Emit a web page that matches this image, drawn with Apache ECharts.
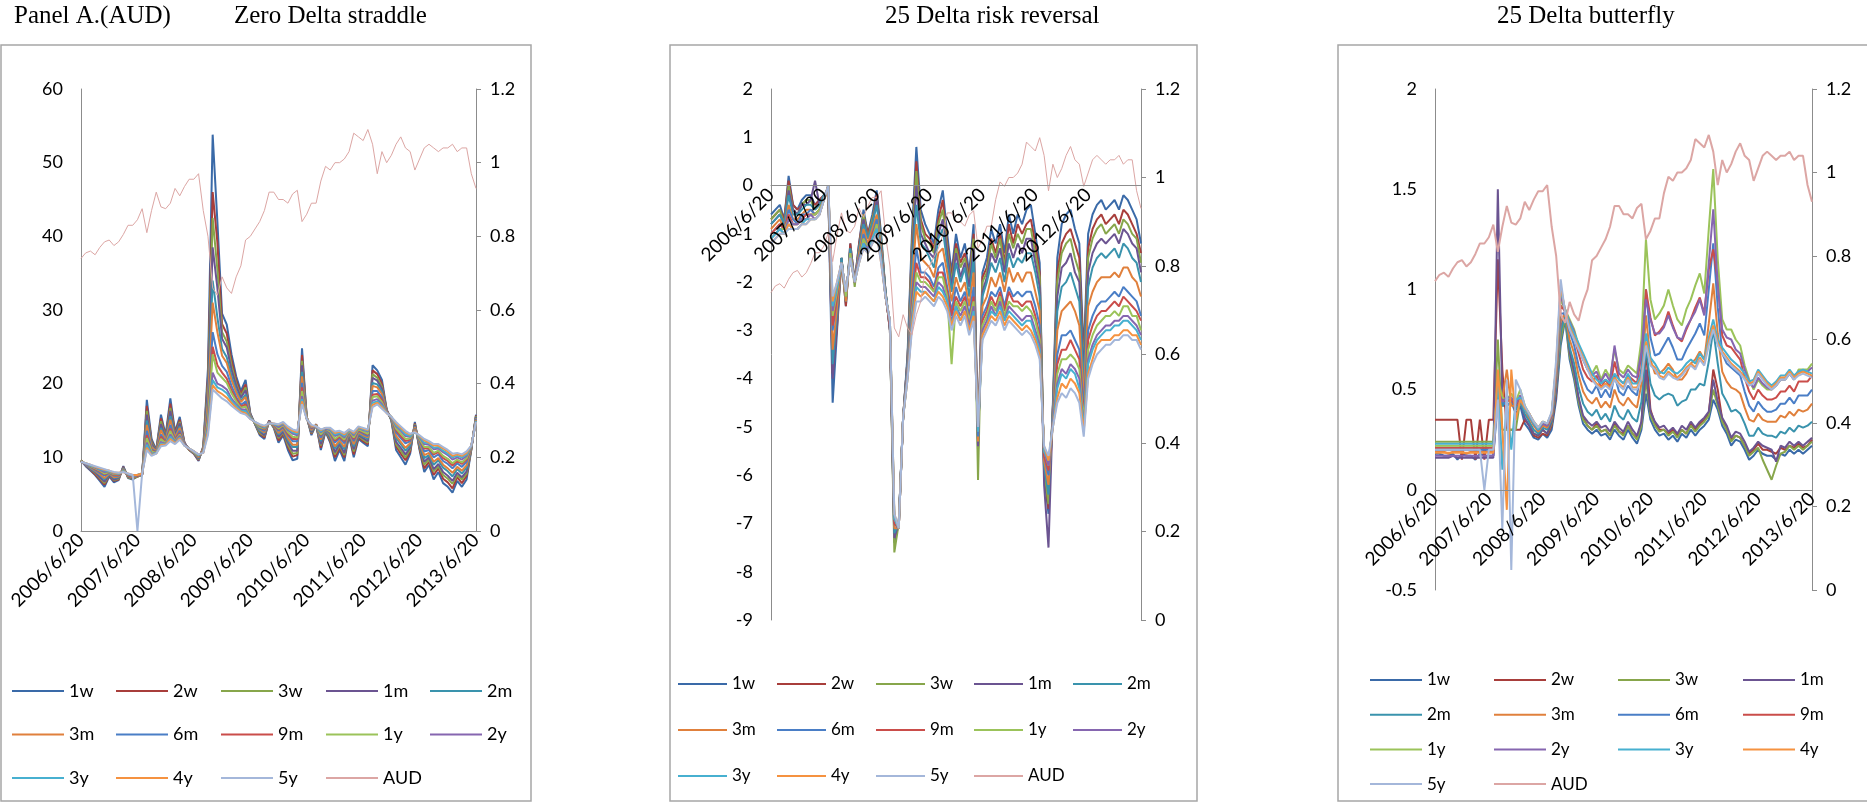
<!DOCTYPE html>
<html>
<head>
<meta charset="utf-8">
<title>AUD option-implied volatility: straddle, risk reversal, butterfly</title>
<script src="https://cdn.jsdelivr.net/npm/echarts@6.0.0/dist/echarts.min.js"></script>
<style>
  html, body { margin: 0; padding: 0; background: #fff; }
  #chart { width: 1867px; height: 803px; }
</style>
</head>
<body>
<div id="chart"></div>
<script>
// Monthly observation dates, 2006/6/20 .. 2013/6/20
const dates = [];
for (let m = 0; m <= 84; m++) {
  const y = 2006 + Math.floor((5 + m) / 12);
  const mo = ((5 + m) % 12) + 1;
  dates.push(y + '/' + mo + '/20');
}

const tenors = ['1w', '2w', '3w', '1m', '2m', '3m', '6m', '9m', '1y', '2y', '3y', '4y', '5y'];

// AUD/USD spot (right axis)
const aud = [0.74,0.755,0.76,0.75,0.77,0.785,0.79,0.775,0.785,0.805,0.83,0.83,0.845,0.875,0.81,0.87,0.92,0.88,0.875,0.89,0.93,0.91,0.935,0.955,0.955,0.97,0.87,0.80,0.66,0.64,0.69,0.66,0.645,0.69,0.72,0.79,0.80,0.82,0.84,0.87,0.92,0.92,0.90,0.90,0.89,0.915,0.925,0.84,0.86,0.89,0.89,0.95,0.99,0.98,1.0,1.0,1.01,1.03,1.08,1.07,1.06,1.09,1.05,0.97,1.03,1.00,1.02,1.05,1.07,1.04,1.03,0.98,1.01,1.04,1.05,1.04,1.03,1.04,1.04,1.05,1.03,1.04,1.04,0.97,0.93];

// Zero delta straddle (ATM implied vol, %)
const zds1w = [9.6,8.8,8.2,7.6,6.8,6.0,7.4,6.6,6.9,8.8,7.2,7.0,7.4,7.6,17.8,12.5,11.0,15.8,13.0,18.0,13.5,15.5,12.0,11.0,10.5,9.5,11.5,22.0,53.8,42.0,29.5,28.0,24.0,21.0,19.0,20.5,16.0,14.5,13.0,12.5,15.0,14.0,12.0,13.0,11.0,9.6,9.8,24.8,15.5,13.0,14.5,11.0,13.5,12.0,9.5,11.0,9.5,13.0,10.0,12.5,12.0,11.5,22.5,21.8,20.5,16.5,15.0,11.0,10.0,9.0,10.5,14.8,11.0,8.0,9.0,7.0,8.0,6.5,6.0,5.2,6.8,6.0,7.0,11.0,15.8];
const zds2w = [9.6,8.9,8.3,7.7,7.0,6.3,7.5,6.8,7.0,8.7,7.3,7.1,7.4,7.6,17.0,12.2,10.9,15.3,12.8,17.3,13.3,15.1,12.0,11.0,10.5,9.6,11.4,20.9,46.0,39.2,28.1,26.8,23.2,20.5,18.6,19.9,15.9,14.5,13.2,12.7,15.0,14.1,12.3,13.2,11.4,10.1,10.3,23.9,15.5,13.2,14.5,11.3,13.6,12.2,10.0,11.3,10.0,13.1,10.4,12.7,12.2,11.8,21.8,21.3,20.0,16.4,15.1,11.5,10.5,9.6,10.8,14.6,11.2,8.5,9.4,7.6,8.5,7.1,6.6,5.8,7.3,6.5,7.5,11.1,15.7];
const zds3w = [9.6,8.9,8.4,7.9,7.2,6.5,7.6,6.9,7.1,8.6,7.3,7.1,7.4,7.6,16.3,12.0,10.9,14.9,12.7,16.7,13.1,14.8,11.9,11.0,10.6,9.7,11.3,20.0,42.5,35.5,27.0,25.7,22.5,20.0,18.3,19.5,15.8,14.6,13.3,12.9,14.9,14.1,12.6,13.4,11.7,10.5,10.6,23.1,15.4,13.3,14.4,11.6,13.6,12.4,10.4,11.6,10.3,13.2,10.8,12.9,12.4,12.0,21.3,20.8,19.6,16.4,15.1,11.8,10.9,10.0,11.1,14.5,11.4,9.0,9.7,8.1,8.8,7.6,7.1,6.4,7.6,7.0,7.8,11.1,15.6];
const zds1m = [9.5,8.9,8.4,8.0,7.3,6.7,7.6,7.0,7.2,8.6,7.4,7.2,7.5,7.7,15.8,11.8,10.9,14.5,12.6,16.3,13.0,14.6,11.9,11.1,10.6,9.8,11.2,19.3,38.5,33.0,26.1,24.9,21.9,19.7,18.1,19.1,15.8,14.6,13.5,13.0,14.9,14.2,12.8,13.5,12.0,10.9,10.9,22.5,15.4,13.4,14.4,11.8,13.7,12.6,10.7,11.8,10.6,13.2,11.1,13.0,12.6,12.2,20.8,20.4,19.3,16.4,15.2,12.1,11.3,10.4,11.3,14.4,11.6,9.4,10.0,8.4,9.1,8.0,7.5,6.8,7.9,7.3,8.1,11.2,15.5];
const zds2m = [9.5,9.0,8.5,8.1,7.6,7.0,7.7,7.2,7.3,8.5,7.5,7.3,7.5,7.7,15.0,11.5,10.8,14.0,12.4,15.6,12.8,14.2,11.8,11.1,10.6,9.9,11.1,18.2,34.0,29.0,24.7,23.6,21.1,19.1,17.7,18.5,15.7,14.6,13.6,13.3,14.8,14.3,13.1,13.8,12.3,11.4,11.4,21.6,15.4,13.6,14.4,12.2,13.7,12.8,11.2,12.1,11.1,13.3,11.5,13.2,12.8,12.5,20.1,19.9,18.9,16.3,15.2,12.6,11.8,10.9,11.6,14.2,11.8,9.9,10.3,9.0,9.6,8.6,8.1,7.4,8.4,7.8,8.6,11.3,15.4];
const zds3m = [9.5,9.0,8.6,8.2,7.7,7.2,7.8,7.3,7.4,8.4,7.5,7.3,7.5,7.7,14.4,11.4,10.8,13.7,12.3,15.1,12.7,14.0,11.8,11.1,10.7,10.0,11.1,17.5,31.0,27.0,23.8,22.8,20.5,18.8,17.5,18.2,15.6,14.7,13.8,13.4,14.8,14.3,13.3,13.9,12.6,11.7,11.7,21.0,15.4,13.7,14.4,12.4,13.8,13.0,11.5,12.3,11.4,13.4,11.8,13.4,13.0,12.7,19.7,19.5,18.6,16.3,15.3,12.9,12.1,11.3,11.9,14.1,12.0,10.3,10.6,9.4,9.9,9.0,8.5,7.9,8.7,8.2,8.9,11.3,15.3];
const zds6m = [9.5,9.0,8.7,8.3,7.9,7.5,7.9,7.5,7.5,8.3,7.6,7.4,7.5,7.7,13.6,11.1,10.7,13.1,12.1,14.4,12.4,13.6,11.8,11.1,10.7,10.1,10.9,16.4,27.0,24.0,22.4,21.6,19.7,18.2,17.1,17.6,15.5,14.7,13.9,13.6,14.8,14.4,13.6,14.1,13.0,12.2,12.2,20.1,15.3,13.9,14.3,12.7,13.8,13.2,12.0,12.6,11.9,13.5,12.2,13.6,13.2,12.9,19.0,19.0,18.1,16.2,15.3,13.4,12.6,11.9,12.2,13.9,12.2,10.8,11.0,10.0,10.4,9.5,9.1,8.5,9.2,8.7,9.4,11.4,15.2];
const zds9m = [9.5,9.1,8.8,8.4,8.1,7.7,8.0,7.6,7.6,8.2,7.6,7.4,7.5,7.7,13.0,10.9,10.7,12.8,12.0,13.9,12.3,13.3,11.7,11.1,10.7,10.1,10.9,15.7,25.0,22.5,21.5,20.7,19.1,17.9,16.9,17.2,15.4,14.7,14.1,13.8,14.7,14.4,13.8,14.3,13.2,12.5,12.5,19.5,15.3,14.0,14.3,13.0,13.9,13.4,12.3,12.8,12.2,13.6,12.5,13.7,13.4,13.1,18.5,18.6,17.8,16.2,15.4,13.7,12.9,12.2,12.4,13.8,12.4,11.2,11.2,10.4,10.7,9.9,9.5,8.9,9.5,9.1,9.7,11.4,15.1];
const zds1y = [9.5,9.1,8.8,8.5,8.2,7.8,8.0,7.7,7.7,8.2,7.7,7.5,7.6,7.8,12.6,10.8,10.6,12.5,11.9,13.6,12.2,13.1,11.7,11.2,10.7,10.2,10.8,15.2,24.0,21.5,20.8,20.1,18.7,17.6,16.7,16.9,15.4,14.7,14.1,13.9,14.7,14.5,13.9,14.4,13.4,12.8,12.7,19.0,15.3,14.1,14.3,13.1,13.9,13.5,12.5,13.0,12.4,13.6,12.7,13.8,13.5,13.2,18.2,18.3,17.5,16.1,15.4,13.9,13.2,12.5,12.6,13.7,12.5,11.4,11.4,10.6,10.9,10.2,9.8,9.2,9.7,9.3,9.9,11.5,15.0];
const zds2y = [9.4,9.1,8.9,8.6,8.3,8.0,8.1,7.8,7.8,8.1,7.7,7.5,7.6,7.8,12.0,10.5,10.6,12.1,11.8,13.1,12.1,12.9,11.7,11.2,10.8,10.3,10.7,14.4,21.5,20.0,19.7,19.2,18.0,17.2,16.5,16.5,15.3,14.8,14.3,14.0,14.7,14.5,14.1,14.5,13.7,13.2,13.0,18.3,15.2,14.2,14.2,13.4,13.9,13.7,12.9,13.2,12.7,13.7,13.0,14.0,13.7,13.5,17.7,17.9,17.2,16.1,15.4,14.2,13.6,12.9,12.8,13.6,12.7,11.8,11.7,11.1,11.2,10.7,10.3,9.7,10.0,9.7,10.2,11.5,14.9];
const zds3y = [9.4,9.2,8.9,8.7,8.4,8.2,8.1,7.9,7.8,8.1,7.7,7.5,7.6,7.8,11.7,10.4,10.6,11.9,11.7,12.8,12.0,12.7,11.6,11.2,10.8,10.3,10.7,13.9,20.5,19.5,19.2,18.7,17.7,17.0,16.3,16.3,15.3,14.8,14.4,14.1,14.6,14.5,14.3,14.6,13.9,13.4,13.2,17.9,15.2,14.3,14.2,13.5,14.0,13.8,13.1,13.3,12.9,13.7,13.2,14.0,13.8,13.6,17.4,17.6,17.0,16.1,15.5,14.4,13.8,13.1,12.9,13.5,12.8,12.0,11.9,11.3,11.4,10.9,10.5,10.0,10.2,10.0,10.4,11.5,14.9];
const zds4y = [9.4,9.2,9.0,8.7,8.5,8.3,8.2,7.9,7.9,8.0,7.8,7.6,7.6,7.8,11.3,10.3,10.5,11.7,11.7,12.5,11.9,12.6,11.6,11.2,10.8,10.4,10.6,13.5,19.8,19.0,18.6,18.1,17.4,16.7,16.2,16.0,15.2,14.8,14.4,14.2,14.6,14.6,14.4,14.7,14.0,13.6,13.4,17.6,15.2,14.3,14.2,13.7,14.0,13.9,13.3,13.5,13.1,13.8,13.3,14.1,13.9,13.7,17.1,17.4,16.8,16.0,15.5,14.6,14.0,13.4,13.1,13.5,12.9,12.3,12.0,11.6,11.6,11.2,10.8,10.2,10.4,10.2,10.6,11.6,14.8];
const zds5y = [9.4,9.2,9.0,8.8,8.6,8.4,8.2,8.0,7.9,8.0,7.8,7.6,0,7.8,11.0,10.2,10.5,11.5,11.6,12.2,11.8,12.4,11.6,11.2,10.8,10.4,10.6,13.0,19.2,18.6,18.0,17.6,17.0,16.5,16.0,15.8,15.2,14.8,14.5,14.3,14.6,14.6,14.5,14.8,14.2,13.8,13.6,17.2,15.2,14.4,14.2,13.8,14.0,14.0,13.5,13.6,13.3,13.8,13.5,14.2,14.0,13.8,16.8,17.2,16.6,16.0,15.5,14.8,14.2,13.6,13.2,13.4,13.0,12.5,12.2,11.8,11.8,11.4,11.0,10.5,10.6,10.4,10.8,11.6,14.8];

// 25 delta risk reversal (vol points)
const rr1w = [-0.6,-0.5,-0.4,-0.7,0.2,-0.4,-0.5,-0.3,-0.2,-0.2,-0.4,-0.3,-0.2,-0.1,-4.5,-3.0,-1.5,-2.5,-1.2,-2.0,-1.2,-0.5,-1.0,-0.6,-0.1,-1.0,-2.2,-3.0,-7.4,-7.0,-4.8,-3.5,-1.0,0.8,-0.5,-0.8,-1.0,-1.2,-0.5,-0.1,-1.0,-1.8,-1.0,-1.5,-1.2,-1.8,-0.8,-5.5,-1.8,-1.5,-0.9,-1.2,-0.8,-1.4,-0.6,-1.0,-0.6,-0.8,-0.5,-0.4,-1.0,-1.6,-6.0,-6.8,-4.5,-1.5,-0.8,-0.6,-0.5,-0.9,-1.2,-3.5,-1.0,-0.6,-0.4,-0.3,-0.5,-0.4,-0.3,-0.5,-0.2,-0.3,-0.5,-0.7,-1.2];
const rr2w = [-0.7,-0.6,-0.5,-0.7,0.1,-0.4,-0.5,-0.4,-0.3,-0.3,-0.4,-0.3,-0.2,-0.1,-3.9,-2.9,-1.5,-2.5,-1.2,-2.0,-1.2,-0.6,-1.0,-0.7,-0.2,-1.1,-2.2,-3.0,-7.3,-7.0,-4.8,-3.6,-1.2,0.5,-0.7,-1.0,-1.1,-1.3,-0.7,-0.3,-1.2,-1.9,-1.2,-1.6,-1.4,-1.9,-1.0,-5.4,-1.9,-1.7,-1.1,-1.4,-1.0,-1.6,-0.8,-1.2,-0.8,-1.0,-0.8,-0.7,-1.2,-1.8,-5.9,-6.7,-4.6,-1.8,-1.2,-1.0,-0.9,-1.2,-1.5,-3.7,-1.3,-0.9,-0.7,-0.6,-0.8,-0.7,-0.6,-0.8,-0.5,-0.6,-0.8,-1.0,-1.4];
const rr3w = [-0.7,-0.6,-0.5,-0.8,0.0,-0.5,-0.6,-0.4,-0.3,-0.3,-0.5,-0.4,-0.2,-0.1,-3.6,-2.8,-1.5,-2.4,-1.3,-2.1,-1.3,-0.6,-1.1,-0.7,-0.3,-1.1,-2.2,-3.0,-7.6,-7.0,-4.8,-3.6,-1.3,0.3,-0.8,-1.1,-1.2,-1.4,-0.8,-0.5,-1.3,-2.0,-1.3,-1.7,-1.5,-2.0,-1.1,-6.1,-2.0,-1.8,-1.2,-1.5,-1.1,-1.7,-1.0,-1.3,-1.0,-1.2,-0.9,-0.9,-1.4,-1.9,-5.9,-6.6,-4.6,-2.0,-1.4,-1.2,-1.1,-1.5,-1.8,-3.8,-1.5,-1.1,-0.9,-0.8,-1.0,-0.9,-0.8,-1.0,-0.7,-0.8,-1.0,-1.1,-1.6];
const rr1m = [-0.8,-0.7,-0.6,-0.8,-0.1,-0.5,-0.6,-0.4,-0.4,-0.3,0.1,-0.4,-0.2,-0.1,-4.0,-2.8,-1.5,-2.4,-1.3,-2.0,-1.3,-0.7,-1.1,-0.8,-0.3,-1.2,-2.2,-3.0,-7.3,-7.0,-4.8,-3.6,-1.5,0.0,-1.0,-1.2,-1.4,-1.5,-1.0,-0.7,-1.4,-2.1,-1.4,-1.9,-1.6,-2.1,-1.3,-5.4,-2.2,-1.9,-1.4,-1.6,-1.3,-1.8,-1.2,-1.5,-1.2,-1.4,-1.1,-1.1,-1.6,-2.1,-6.2,-7.5,-4.6,-2.3,-1.7,-1.6,-1.4,-1.8,-2.0,-3.9,-1.8,-1.4,-1.2,-1.1,-1.2,-1.1,-1.0,-1.2,-0.9,-1.0,-1.2,-1.3,-1.8];
const rr2m = [-0.8,-0.7,-0.6,-0.8,-0.2,-0.6,-0.6,-0.5,-0.4,-0.4,-0.5,-0.4,-0.2,-0.1,-3.7,-2.6,-1.5,-2.4,-1.3,-2.0,-1.3,-0.8,-1.1,-0.8,-0.4,-1.2,-2.2,-2.9,-7.2,-7.0,-4.8,-3.7,-1.7,-0.4,-1.2,-1.3,-1.5,-1.7,-1.1,-0.9,-1.6,-2.2,-1.6,-2.0,-1.7,-2.3,-1.5,-5.3,-2.3,-2.0,-1.6,-1.8,-1.5,-2.0,-1.4,-1.7,-1.5,-1.6,-1.4,-1.4,-1.8,-2.3,-5.8,-6.4,-4.7,-2.6,-2.1,-2.0,-1.8,-2.1,-2.4,-4.1,-2.1,-1.7,-1.5,-1.4,-1.5,-1.4,-1.3,-1.5,-1.2,-1.3,-1.5,-1.6,-2.0];
const rr3m = [-0.9,-0.8,-0.7,-0.9,-0.4,-0.7,-0.7,-0.6,-0.5,-0.5,-0.6,-0.5,-0.3,-0.1,-3.4,-2.5,-1.6,-2.4,-1.4,-2.0,-1.4,-0.9,-1.2,-0.9,-0.6,-1.3,-2.3,-2.9,-7.1,-7.1,-4.8,-3.8,-2.0,-0.8,-1.5,-1.6,-1.7,-1.9,-1.4,-1.3,-1.8,-2.4,-1.9,-2.2,-2.0,-2.5,-1.8,-5.3,-2.5,-2.3,-1.9,-2.1,-1.8,-2.2,-1.7,-2.0,-1.8,-2.0,-1.8,-1.8,-2.2,-2.6,-5.7,-6.2,-4.8,-3.0,-2.6,-2.5,-2.4,-2.6,-2.9,-4.4,-2.5,-2.2,-2.0,-1.9,-1.9,-1.9,-1.8,-1.9,-1.7,-1.7,-1.9,-2.0,-2.3];
const rr6m = [-1.0,-0.9,-0.8,-0.9,-0.5,-0.7,-0.8,-0.6,-0.6,-0.5,-0.6,-0.5,-0.3,0.0,-3.0,-2.3,-1.6,-2.3,-1.4,-2.0,-1.5,-1.0,-1.3,-1.0,-0.7,-1.4,-2.3,-2.9,-7.0,-7.1,-4.8,-3.8,-2.3,-1.3,-1.8,-1.8,-1.9,-2.1,-1.7,-1.6,-2.1,-2.6,-2.1,-2.4,-2.2,-2.7,-2.1,-5.2,-2.7,-2.5,-2.2,-2.3,-2.1,-2.5,-2.1,-2.3,-2.2,-2.3,-2.2,-2.2,-2.5,-2.9,-5.6,-6.0,-4.8,-3.5,-3.1,-3.1,-3.0,-3.2,-3.4,-4.6,-3.0,-2.7,-2.5,-2.4,-2.4,-2.3,-2.2,-2.3,-2.1,-2.2,-2.3,-2.4,-2.7];
const rr9m = [-1.0,-0.9,-0.8,-0.9,-0.6,-0.8,-0.8,-0.7,-0.6,-0.6,-0.6,-0.5,-0.3,0.0,-2.9,-2.3,-1.6,-2.3,-1.4,-2.0,-1.5,-1.1,-1.3,-1.0,-0.8,-1.4,-2.3,-2.9,-7.0,-7.1,-4.8,-3.9,-2.5,-1.6,-1.9,-1.9,-2.0,-2.2,-1.8,-1.8,-2.2,-2.7,-2.3,-2.5,-2.3,-2.8,-2.3,-5.1,-2.8,-2.6,-2.3,-2.5,-2.2,-2.6,-2.2,-2.4,-2.4,-2.5,-2.4,-2.4,-2.7,-3.1,-5.6,-5.9,-4.9,-3.7,-3.4,-3.4,-3.2,-3.4,-3.6,-4.8,-3.2,-2.9,-2.7,-2.6,-2.6,-2.5,-2.4,-2.5,-2.3,-2.4,-2.5,-2.6,-2.8];
const rr1y = [-1.1,-1.0,-0.9,-0.9,-0.7,-0.8,-0.8,-0.7,-0.7,-0.6,-0.6,-0.5,-0.3,0.0,-2.7,-2.2,-1.6,-2.3,-1.4,-2.0,-1.5,-1.1,-1.3,-1.1,-0.8,-1.5,-2.3,-2.8,-6.9,-7.1,-4.8,-3.9,-2.6,-1.8,-2.0,-2.0,-2.1,-2.2,-1.9,-1.9,-2.3,-3.7,-2.4,-2.6,-2.4,-2.8,-2.4,-5.1,-2.9,-2.7,-2.4,-2.6,-2.3,-2.7,-2.4,-2.5,-2.5,-2.6,-2.5,-2.6,-2.8,-3.2,-5.5,-5.8,-4.9,-3.9,-3.6,-3.6,-3.5,-3.6,-3.8,-4.9,-3.4,-3.1,-2.9,-2.8,-2.7,-2.7,-2.6,-2.7,-2.5,-2.5,-2.7,-2.7,-3.0];
const rr2y = [-1.1,-1.0,-0.9,-1.0,-0.7,-0.8,-0.8,-0.7,-0.7,-0.6,-0.7,-0.6,-0.3,0.0,-2.6,-2.1,-1.6,-2.2,-1.5,-2.0,-1.5,-1.2,-1.3,-1.1,-0.9,-1.5,-2.3,-2.8,-6.9,-7.1,-4.8,-3.9,-2.7,-2.0,-2.1,-2.1,-2.2,-2.3,-2.0,-2.1,-2.4,-2.8,-2.5,-2.7,-2.5,-2.9,-2.5,-5.1,-3.0,-2.8,-2.5,-2.7,-2.4,-2.8,-2.5,-2.6,-2.7,-2.8,-2.7,-2.7,-3.0,-3.3,-5.5,-5.8,-4.9,-4.1,-3.8,-3.9,-3.7,-3.8,-4.0,-5.0,-3.6,-3.3,-3.1,-3.0,-2.9,-2.9,-2.8,-2.8,-2.7,-2.7,-2.8,-2.9,-3.1];
const rr3y = [-1.1,-1.0,-0.9,-1.0,-0.8,-0.9,-0.9,-0.8,-0.7,-0.7,-0.7,-0.6,-0.3,0.0,-2.5,-2.1,-1.6,-2.2,-1.5,-2.0,-1.6,-1.2,-1.4,-1.1,-0.9,-1.5,-2.3,-2.8,-6.9,-7.1,-4.8,-4.0,-2.8,-2.1,-2.2,-2.2,-2.3,-2.4,-2.1,-2.2,-2.4,-2.9,-2.5,-2.8,-2.6,-3.0,-2.6,-5.1,-3.1,-2.9,-2.6,-2.7,-2.5,-2.8,-2.6,-2.7,-2.8,-2.9,-2.8,-2.8,-3.1,-3.4,-5.5,-5.7,-5.0,-4.2,-3.9,-4.0,-3.8,-3.9,-4.2,-5.0,-3.7,-3.4,-3.2,-3.1,-3.0,-3.0,-2.9,-2.9,-2.8,-2.8,-2.9,-3.0,-3.2];
const rr4y = [-1.2,-1.1,-1.0,-1.0,-0.8,-0.9,-0.9,-0.8,-0.8,-0.7,-0.7,-0.6,-0.3,0.0,-2.4,-2.0,-1.6,-2.2,-1.5,-2.0,-1.6,-1.3,-1.4,-1.2,-1.0,-1.6,-2.3,-2.8,-6.8,-7.1,-4.8,-4.0,-2.9,-2.2,-2.3,-2.2,-2.3,-2.4,-2.2,-2.3,-2.5,-2.9,-2.6,-2.8,-2.6,-3.0,-2.7,-5.0,-3.1,-2.9,-2.7,-2.8,-2.6,-2.9,-2.7,-2.8,-2.9,-3.0,-2.9,-3.0,-3.2,-3.5,-5.4,-5.7,-5.0,-4.4,-4.1,-4.2,-4.0,-4.1,-4.3,-5.1,-3.9,-3.6,-3.3,-3.2,-3.2,-3.2,-3.1,-3.1,-3.0,-3.0,-3.1,-3.1,-3.3];
const rr5y = [-1.2,-1.1,-1.0,-1.0,-0.9,-0.9,-0.9,-0.8,-0.8,-0.7,-0.7,-0.6,-0.3,0.0,-2.3,-2.0,-1.6,-2.2,-1.5,-2.0,-1.6,-1.3,-1.4,-1.2,-1.0,-1.6,-2.3,-2.8,-6.8,-7.1,-4.8,-4.0,-3.0,-2.4,-2.4,-2.3,-2.4,-2.5,-2.3,-2.4,-2.6,-3.0,-2.7,-2.9,-2.7,-3.1,-2.8,-5.0,-3.2,-3.0,-2.8,-2.9,-2.7,-3.0,-2.8,-2.9,-3.0,-3.1,-3.0,-3.1,-3.3,-3.6,-5.4,-5.6,-5.0,-4.5,-4.3,-4.4,-4.2,-4.3,-4.5,-5.2,-4.0,-3.7,-3.5,-3.4,-3.3,-3.3,-3.2,-3.2,-3.1,-3.1,-3.2,-3.2,-3.4];

// 25 delta butterfly (vol points)
const bf1w = [0.18,0.18,0.17,0.17,0.18,0.15,0.18,0.17,0.17,0.15,0.18,0.17,0.17,0.17,0.45,0.42,0.42,0.44,0.38,0.42,0.33,0.3,0.26,0.25,0.28,0.26,0.3,0.45,0.72,0.85,0.65,0.55,0.42,0.33,0.3,0.28,0.3,0.27,0.28,0.25,0.3,0.27,0.25,0.3,0.26,0.23,0.3,0.48,0.35,0.3,0.27,0.28,0.25,0.27,0.24,0.28,0.26,0.3,0.27,0.3,0.32,0.35,0.45,0.4,0.32,0.28,0.22,0.25,0.24,0.2,0.15,0.17,0.2,0.18,0.17,0.17,0.15,0.18,0.17,0.2,0.18,0.2,0.18,0.2,0.22];
const bf2w = [0.35,0.35,0.35,0.35,0.35,0.35,0.15,0.35,0.35,0.15,0.35,0.15,0.35,0.35,1.15,0.6,0.3,0.3,0.3,0.3,0.35,0.32,0.27,0.26,0.28,0.27,0.32,0.48,0.78,0.88,0.68,0.58,0.45,0.36,0.32,0.3,0.33,0.29,0.3,0.27,0.33,0.29,0.28,0.32,0.28,0.26,0.33,0.7,0.4,0.33,0.3,0.3,0.28,0.3,0.27,0.3,0.28,0.33,0.3,0.33,0.35,0.38,0.6,0.5,0.35,0.3,0.25,0.27,0.26,0.22,0.18,0.2,0.23,0.2,0.2,0.19,0.18,0.21,0.2,0.22,0.21,0.23,0.21,0.22,0.25];
const bf3w = [0.24,0.24,0.24,0.24,0.24,0.24,0.24,0.24,0.24,0.24,0.24,0.24,0.24,0.24,0.75,0.3,0.3,0.3,0.3,0.45,0.42,0.34,0.28,0.27,0.3,0.28,0.33,0.5,0.75,0.86,0.67,0.57,0.44,0.35,0.32,0.3,0.32,0.29,0.3,0.27,0.32,0.29,0.27,0.32,0.28,0.25,0.32,0.55,0.37,0.32,0.29,0.3,0.27,0.29,0.26,0.3,0.28,0.32,0.29,0.32,0.34,0.37,0.5,0.42,0.34,0.3,0.24,0.27,0.26,0.22,0.17,0.19,0.21,0.15,0.1,0.05,0.12,0.18,0.19,0.22,0.2,0.22,0.2,0.22,0.24];
const bf1m = [0.16,0.16,0.16,0.16,0.17,0.16,0.16,0.16,0.16,0.16,0.16,0.16,0.16,0.16,1.5,0.45,0.45,0.44,0.4,0.45,0.36,0.32,0.28,0.27,0.3,0.28,0.34,0.5,0.8,0.9,0.69,0.59,0.46,0.37,0.34,0.32,0.34,0.31,0.32,0.29,0.34,0.31,0.29,0.34,0.3,0.27,0.34,0.6,0.39,0.34,0.31,0.32,0.29,0.31,0.28,0.32,0.3,0.34,0.31,0.34,0.36,0.39,0.55,0.44,0.36,0.32,0.26,0.29,0.28,0.24,0.19,0.21,0.24,0.22,0.21,0.2,0.14,0.22,0.21,0.24,0.22,0.24,0.22,0.24,0.26];
const bf2m = [0.21,0.21,0.21,0.21,0.21,0.21,0.21,0.21,0.21,0.21,0.21,0.21,0.21,0.21,0.55,0.42,0.45,0.45,0.4,0.44,0.38,0.34,0.3,0.28,0.31,0.3,0.35,0.52,0.79,0.87,0.71,0.63,0.51,0.43,0.39,0.37,0.4,0.35,0.38,0.34,0.42,0.37,0.35,0.4,0.36,0.34,0.44,0.71,0.53,0.47,0.45,0.47,0.48,0.47,0.42,0.44,0.45,0.5,0.5,0.53,0.52,0.64,0.8,0.63,0.48,0.44,0.39,0.4,0.38,0.33,0.27,0.27,0.31,0.28,0.27,0.27,0.26,0.29,0.28,0.31,0.29,0.32,0.31,0.32,0.34];
const bf3m = [0.19,0.19,0.19,0.18,0.19,0.19,0.19,0.18,0.19,0.19,0.19,0.19,0.19,0.19,0.5,0.45,0.6,0.42,0.42,0.45,0.4,0.36,0.32,0.29,0.32,0.31,0.36,0.55,0.84,0.88,0.75,0.68,0.57,0.49,0.45,0.43,0.46,0.41,0.44,0.41,0.5,0.44,0.42,0.46,0.43,0.41,0.53,0.87,0.65,0.58,0.58,0.6,0.63,0.6,0.55,0.55,0.58,0.63,0.65,0.69,0.65,0.83,1.03,0.78,0.59,0.54,0.51,0.5,0.48,0.41,0.35,0.34,0.38,0.35,0.34,0.34,0.34,0.37,0.36,0.39,0.37,0.4,0.39,0.4,0.43];
const bf6m = [0.2,0.2,0.2,0.2,0.2,0.2,0.2,0.2,0.2,0.2,0.2,0.2,0.2,0.2,0.48,0.44,0.42,0.44,0.42,0.46,0.4,0.37,0.33,0.3,0.33,0.32,0.37,0.57,0.88,0.88,0.79,0.72,0.62,0.55,0.5,0.48,0.52,0.46,0.5,0.46,0.57,0.49,0.47,0.52,0.49,0.47,0.61,1.0,0.76,0.67,0.68,0.72,0.76,0.71,0.65,0.65,0.7,0.74,0.78,0.83,0.77,1.0,1.23,0.91,0.68,0.63,0.61,0.59,0.57,0.49,0.42,0.39,0.44,0.41,0.39,0.39,0.4,0.43,0.43,0.46,0.43,0.47,0.47,0.47,0.5];
const bf9m = [0.21,0.21,0.21,0.21,0.21,0.21,0.21,0.21,0.21,0.21,0.21,0.21,0.21,0.21,0.5,0.45,0.44,0.45,0.42,0.47,0.41,0.38,0.33,0.3,0.33,0.32,0.37,0.58,0.92,0.89,0.82,0.76,0.68,0.6,0.56,0.54,0.57,0.51,0.55,0.51,0.64,0.55,0.53,0.57,0.55,0.53,0.68,1.0,0.86,0.77,0.79,0.82,0.89,0.82,0.76,0.74,0.8,0.85,0.91,0.96,0.88,1.1,1.2,1.04,0.77,0.72,0.71,0.68,0.65,0.56,0.49,0.45,0.5,0.47,0.45,0.45,0.46,0.49,0.49,0.52,0.49,0.54,0.54,0.54,0.57];
const bf1y = [0.22,0.22,0.22,0.22,0.22,0.22,0.22,0.22,0.22,0.22,0.22,0.22,0.22,0.22,0.55,0.46,0.45,0.48,0.44,0.5,0.42,0.38,0.34,0.31,0.34,0.33,0.38,0.6,0.95,0.9,0.85,0.8,0.72,0.65,0.6,0.58,0.62,0.55,0.6,0.56,0.7,0.6,0.58,0.62,0.6,0.58,0.75,1.25,0.95,0.85,0.88,0.92,1.0,0.92,0.85,0.82,0.9,0.95,1.02,1.08,0.98,1.3,1.6,1.15,0.85,0.8,0.8,0.75,0.72,0.62,0.55,0.5,0.55,0.52,0.5,0.5,0.52,0.55,0.55,0.58,0.55,0.6,0.6,0.6,0.63];
const bf2y = [0.17,0.17,0.17,0.17,0.17,0.17,0.17,0.17,0.17,0.17,0.17,0.17,0.17,0.17,0.5,0.44,0.46,0.46,0.43,0.47,0.41,0.37,0.33,0.3,0.33,0.32,0.37,0.6,0.98,0.89,0.84,0.79,0.71,0.65,0.6,0.57,0.59,0.54,0.58,0.54,0.72,0.58,0.56,0.6,0.57,0.56,0.69,0.95,0.85,0.78,0.78,0.81,0.87,0.81,0.76,0.75,0.81,0.85,0.89,0.95,0.87,1.13,1.4,1.02,0.8,0.76,0.75,0.7,0.68,0.6,0.54,0.51,0.56,0.53,0.51,0.5,0.52,0.55,0.55,0.58,0.55,0.59,0.59,0.59,0.61];
const bf3y = [0.23,0.23,0.23,0.23,0.23,0.23,0.23,0.23,0.23,0.23,0.23,0.23,0.23,0.23,0.55,0.1,0.45,0.2,0.45,0.46,0.4,0.37,0.33,0.3,0.34,0.33,0.38,0.62,1.0,0.9,0.83,0.78,0.73,0.68,0.63,0.58,0.55,0.53,0.55,0.53,0.58,0.55,0.53,0.58,0.53,0.53,0.58,0.78,0.66,0.63,0.59,0.58,0.61,0.59,0.58,0.6,0.63,0.65,0.63,0.68,0.65,0.76,0.85,0.75,0.71,0.68,0.65,0.63,0.61,0.58,0.54,0.55,0.6,0.57,0.54,0.52,0.54,0.57,0.57,0.6,0.57,0.59,0.6,0.59,0.58];
const bf4y = [0.185,0.185,0.185,0.185,0.185,0.185,0.185,0.185,0.185,0.185,0.185,0.185,0.185,0.185,0.6,0.3,-0.1,0.6,0.35,0.45,0.41,0.38,0.34,0.31,0.34,0.33,0.38,0.62,1.02,0.89,0.81,0.76,0.71,0.66,0.61,0.56,0.53,0.51,0.53,0.51,0.56,0.53,0.51,0.56,0.51,0.51,0.56,0.74,0.63,0.61,0.57,0.56,0.59,0.57,0.56,0.58,0.61,0.63,0.61,0.66,0.63,0.74,0.82,0.73,0.69,0.66,0.63,0.61,0.59,0.56,0.53,0.54,0.59,0.56,0.53,0.51,0.53,0.56,0.56,0.59,0.56,0.58,0.59,0.58,0.57];
const bf5y = [0.2,0.2,0.2,0.2,0.2,0.2,0.2,0.2,0.2,0.2,0.2,0,0.2,0.2,0.45,-0.2,0.55,-0.4,0.55,0.5,0.42,0.38,0.34,0.31,0.34,0.33,0.39,0.65,1.05,0.88,0.8,0.75,0.7,0.65,0.6,0.55,0.52,0.5,0.52,0.5,0.55,0.52,0.5,0.55,0.5,0.5,0.55,0.72,0.62,0.6,0.56,0.55,0.58,0.56,0.55,0.57,0.6,0.62,0.6,0.65,0.62,0.72,0.8,0.72,0.68,0.65,0.62,0.6,0.58,0.55,0.52,0.53,0.58,0.55,0.52,0.5,0.52,0.55,0.55,0.58,0.55,0.57,0.58,0.57,0.56];

const straddle = [zds1w, zds2w, zds3w, zds1m, zds2m, zds3m, zds6m, zds9m, zds1y, zds2y, zds3y, zds4y, zds5y];
const riskReversal = [rr1w, rr2w, rr3w, rr1m, rr2m, rr3m, rr6m, rr9m, rr1y, rr2y, rr3y, rr4y, rr5y];
const butterfly = [bf1w, bf2w, bf3w, bf1m, bf2m, bf3m, bf6m, bf9m, bf1y, bf2y, bf3y, bf4y, bf5y];

const tenorColors = ['#3A6AA8', '#A83E3B', '#87A64B', '#6B5491', '#3A93AD', '#E0803C',
                     '#4A7EC6', '#CA4D4A', '#9BC35A', '#8666B0', '#47B0D0', '#F59240', '#A4B7DA'];
const audColor = '#DCA6A4';

const SANS = 'Lato, "Open Sans", sans-serif';
const SERIF = '"Liberation Serif", "DejaVu Serif", serif';
const AXIS_GRAY = '#8C8C8C';

// Grid geometry of the three panels
const grids = [
  { left: 81, top: 89, width: 395, height: 442 },
  { left: 771, top: 89, width: 370, height: 531 },
  { left: 1435, top: 89, width: 377, height: 501 }
];

// Left-axis ranges; the category axis is drawn along the zero level of each
const leftRanges = [[0, 60, 10], [-9, 2, 1], [-0.5, 2, 0.5]];
function zeroOffset(gi) {
  const g = grids[gi], r = leftRanges[gi];
  const yZero = g.top + g.height * (r[1] - 0) / (r[1] - r[0]);
  return -((g.top + g.height) - yZero);
}

function xAxisFor(gi, showLast) {
  return {
    type: 'category', gridIndex: gi, data: dates, boundaryGap: false,
    position: 'bottom', offset: zeroOffset(gi), z: 10,
    axisTick: { show: false },
    axisLine: { onZero: false, lineStyle: { color: AXIS_GRAY, width: 1 } },
    axisLabel: {
      interval: (i) => i % 12 === 0 && (showLast || i < 84),
      rotate: 45, margin: 6, color: '#000', fontFamily: SANS, fontSize: 19
    },
    splitLine: { show: false }
  };
}

function yAxisFor(gi, pos, min, max, interval, ticks) {
  return {
    type: 'value', gridIndex: gi, position: pos, min: min, max: max, interval: interval,
    axisLine: { show: true, onZero: false, lineStyle: { color: AXIS_GRAY, width: 1 } },
    axisTick: { show: ticks, length: 5, lineStyle: { color: AXIS_GRAY } },
    axisLabel: { color: '#000', fontFamily: SANS, fontSize: 18, margin: pos === 'left' ? 18 : 14 },
    splitLine: { show: false }
  };
}

function panelSeries(gi, sets, width, audWidth) {
  const out = tenors.map((t, k) => ({
    name: t, type: 'line', xAxisIndex: gi, yAxisIndex: gi * 2,
    data: sets[k], symbol: 'none', silent: true,
    lineStyle: { color: tenorColors[k], width: width },
    itemStyle: { color: tenorColors[k] }
  }));
  out.push({
    name: 'AUD', type: 'line', xAxisIndex: gi, yAxisIndex: gi * 2 + 1,
    data: aud, symbol: 'none', silent: true,
    lineStyle: { color: audColor, width: audWidth },
    itemStyle: { color: audColor }
  });
  return out;
}

function legendColumn(left, top, gap, names, iw, fs) {
  return {
    orient: 'vertical', left: left, top: top, padding: 0, itemGap: gap,
    itemWidth: iw, itemHeight: 2, icon: 'rect', selectedMode: false,
    data: names,
    textStyle: { color: '#000', fontFamily: SANS, fontSize: fs, lineHeight: 20 }
  };
}

const titleStyle = { fontFamily: SERIF, fontSize: 25, fontWeight: 'normal', color: '#000' };

const option = {
  animation: false,
  backgroundColor: '#fff',
  title: [
    { text: 'Panel A.(AUD)', left: 14, top: 4, padding: 0, textStyle: titleStyle },
    { text: 'Zero Delta straddle', left: 234, top: 4, padding: 0, textStyle: titleStyle },
    { text: '25 Delta risk reversal', left: 885, top: 4, padding: 0, textStyle: titleStyle },
    { text: '25 Delta butterfly', left: 1497, top: 4, padding: 0, textStyle: titleStyle }
  ],
  graphic: [
    { type: 'rect', silent: true, z: -10, shape: { x: 1, y: 45, width: 530, height: 756 },
      style: { fill: 'none', stroke: '#A6A6A6', lineWidth: 1.5 } },
    { type: 'rect', silent: true, z: -10, shape: { x: 670, y: 45, width: 527, height: 756 },
      style: { fill: 'none', stroke: '#A6A6A6', lineWidth: 1.5 } },
    { type: 'rect', silent: true, z: -10, shape: { x: 1338, y: 45, width: 540, height: 756 },
      style: { fill: 'none', stroke: '#A6A6A6', lineWidth: 1.5 } }
  ],
  grid: grids,
  xAxis: [xAxisFor(0, true), xAxisFor(1, false), xAxisFor(2, true)],
  yAxis: [
    yAxisFor(0, 'left', 0, 60, 10, false), yAxisFor(0, 'right', 0, 1.2, 0.2, true),
    yAxisFor(1, 'left', -9, 2, 1, false), yAxisFor(1, 'right', 0, 1.2, 0.2, true),
    yAxisFor(2, 'left', -0.5, 2, 0.5, false), yAxisFor(2, 'right', 0, 1.2, 0.2, true)
  ],
  legend: [
    // Panel A legend: five columns, three rows
    legendColumn(12, 681, 23.5, ['1w', '3m', '3y'], 52, 18),
    legendColumn(116, 681, 23.5, ['2w', '6m', '4y'], 52, 18),
    legendColumn(221, 681, 23.5, ['3w', '9m', '5y'], 52, 18),
    legendColumn(326, 681, 23.5, ['1m', '1y', 'AUD'], 52, 18),
    legendColumn(430, 681, 23.5, ['2m', '2y'], 52, 18),
    // Risk reversal legend
    legendColumn(678, 674, 26, ['1w', '3m', '3y'], 49, 17),
    legendColumn(777, 674, 26, ['2w', '6m', '4y'], 49, 17),
    legendColumn(876, 674, 26, ['3w', '9m', '5y'], 49, 17),
    legendColumn(974, 674, 26, ['1m', '1y', 'AUD'], 49, 17),
    legendColumn(1073, 674, 26, ['2m', '2y'], 49, 17),
    // Butterfly legend: four columns, four rows
    legendColumn(1370, 670, 14.7, ['1w', '2m', '1y', '5y'], 52, 17),
    legendColumn(1494, 670, 14.7, ['2w', '3m', '2y', 'AUD'], 52, 17),
    legendColumn(1618, 670, 14.7, ['3w', '6m', '3y'], 52, 17),
    legendColumn(1743, 670, 14.7, ['1m', '9m', '4y'], 52, 17)
  ],
  series: [].concat(
    panelSeries(0, straddle, 2, 1),
    panelSeries(1, riskReversal, 2, 1),
    panelSeries(2, butterfly, 2, 2)
  )
};

const chart = echarts.init(document.getElementById('chart'), null, { renderer: 'canvas' });
chart.setOption(option);
</script>
</body>
</html>
